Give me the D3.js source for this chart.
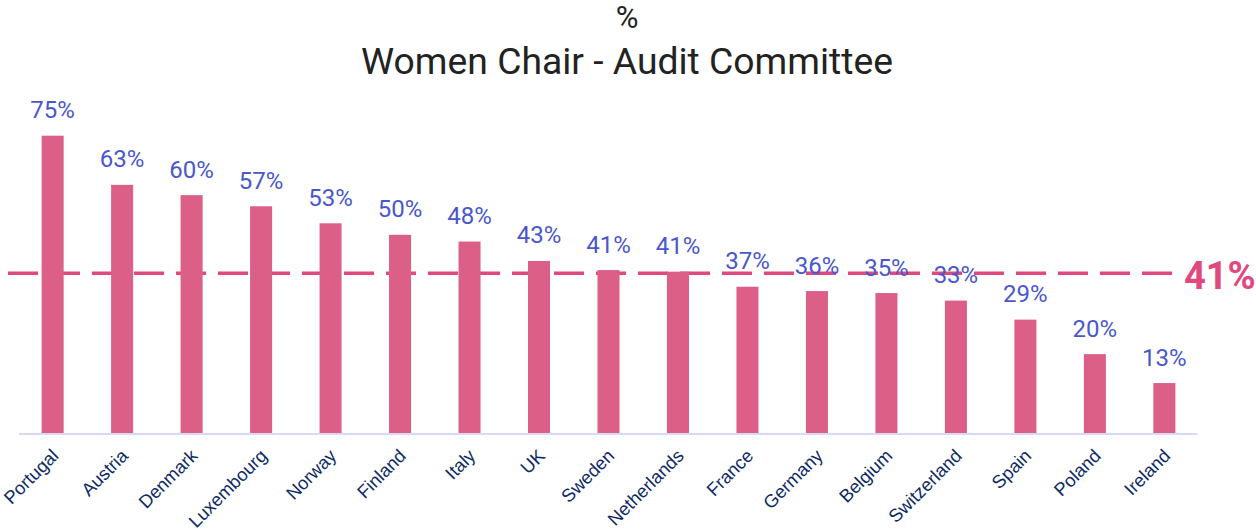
<!DOCTYPE html>
<html>
<head>
<meta charset="utf-8">
<script src="https://cdn.jsdelivr.net/npm/d3@7"></script>
<style>
  html, body { margin: 0; padding: 0; background: #fff; }
  svg { display: block; }
</style>
</head>
<body>
<svg id="chart" width="1256" height="532"></svg>
<script>
const categories = ["Portugal","Austria","Denmark","Luxembourg","Norway","Finland","Italy","UK","Sweden","Netherlands","France","Germany","Belgium","Switzerland","Spain","Poland","Ireland"];
const values = [75, 62.6, 60, 57.2, 52.9, 50, 48.3, 43.4, 41.1, 40.7, 36.9, 35.8, 35.3, 33.4, 28.6, 19.9, 12.6];
const valueLabels = ["75%","63%","60%","57%","53%","50%","48%","43%","41%","41%","37%","36%","35%","33%","29%","20%","13%"];
const averageValue = 40.3;
const averageLabel = "41%";
const titleLines = ["%", "Women Chair - Audit Committee"];

const svg = d3.select("#chart");

const x = d3.scaleBand().domain(categories).range([18, 1199]).paddingInner(0.683).paddingOuter(0.34);
const y = d3.scaleLinear().domain([0, 80]).range([433, 433 - 80 * 3.964]);

// Title
svg.append("text").attr("x", 627).attr("y", 28).attr("text-anchor", "middle")
  .attr("font-family", "Roboto").attr("font-size", 31).attr("fill", "#222")
  .text(titleLines[0]);
svg.append("text").attr("x", 627).attr("y", 74).attr("text-anchor", "middle")
  .attr("font-family", "Roboto").attr("font-size", 37.3).attr("fill", "#222")
  .text(titleLines[1]);

// Average dashed line (under bars)
svg.append("line")
  .attr("x1", 8).attr("x2", 1180)
  .attr("y1", y(averageValue)).attr("y2", y(averageValue))
  .attr("stroke", "#e0487e").attr("stroke-width", 3.5)
  .attr("stroke-dasharray", "30,12");

// Bars
svg.append("g").selectAll("rect").data(categories).join("rect")
  .attr("x", d => x(d))
  .attr("width", x.bandwidth())
  .attr("y", (d, i) => y(values[i]))
  .attr("height", (d, i) => y(0) - y(values[i]))
  .attr("fill", "#dc5f88");

// Axis line
svg.append("line").attr("x1", 19).attr("x2", 1197.5)
  .attr("y1", y(0) + 1).attr("y2", y(0) + 1)
  .attr("stroke", "#d9d9f2").attr("stroke-width", 2);

// Value labels
svg.append("g").selectAll("text").data(categories).join("text")
  .attr("x", d => x(d) + x.bandwidth() / 2)
  .attr("y", (d, i) => y(values[i]) - 17.5)
  .attr("text-anchor", "middle")
  .attr("font-family", "Roboto").attr("font-size", 24)
  .attr("fill", "#4a57cc")
  .text((d, i) => valueLabels[i]);

// Average label
svg.append("text").attr("x", 1184).attr("y", y(averageValue) + 16)
  .attr("font-family", "Roboto").attr("font-weight", "bold").attr("font-size", 38)
  .attr("fill", "#e0487e").text(averageLabel);

// Category labels
svg.append("g").selectAll("text").data(categories).join("text")
  .attr("transform", d => `translate(${x(d) + x.bandwidth() / 2 + 7},457) rotate(-45)`)
  .attr("text-anchor", "end")
  .attr("font-family", "Liberation Sans, Arial, sans-serif").attr("font-size", 18.3)
  .attr("fill", "#0e2a63")
  .text(d => d);
</script>
</body>
</html>
